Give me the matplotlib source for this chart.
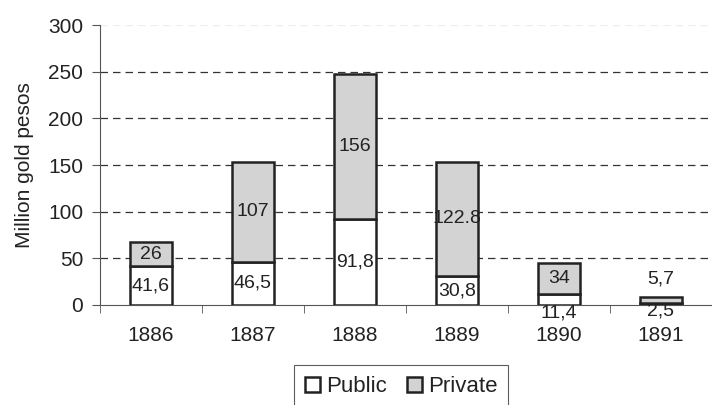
import matplotlib
matplotlib.use('Agg')
import matplotlib.pyplot as plt
import numpy as np

years = ['1886', '1887', '1888', '1889', '1890', '1891']
public = [41.6, 46.5, 91.8, 30.8, 11.4, 2.5]
private = [26, 107, 156, 122.8, 34, 5.7]
public_lbl = ['41,6', '46,5', '91,8', '30,8', '11,4', '2,5']
private_lbl = ['26', '107', '156', '122.8', '34', '5,7']

plt.rcParams['font.family'] = ['Liberation Sans', 'DejaVu Sans']
TXT = '#222222'

fig = plt.figure(figsize=(7.12, 4.05), dpi=100)
ax = fig.add_axes([0.1404, 0.247, 0.8596, 0.691])

x = np.arange(len(years))
w = 0.41
ax.bar(x, public, w, color='white', edgecolor='#222222', linewidth=1.8, label='Public', zorder=3)
ax.bar(x, private, w, bottom=public, color='#d3d3d3', edgecolor='#222222', linewidth=1.8,
       label='Private', zorder=3)

# 数值标签
for i in range(len(years)):
    pb, pv = public[i], private[i]
    if i == 4:
        py = -8.5
    elif i == 5:
        py = -6.5
    else:
        py = pb / 2
    vy = 28 if i == 5 else pb + pv / 2
    ax.text(x[i], py, public_lbl[i], ha='center', va='center', fontsize=14, color=TXT, zorder=4)
    ax.text(x[i], vy, private_lbl[i], ha='center', va='center', fontsize=14, color=TXT, zorder=4)

ax.set_ylim(0, 300)
ax.set_xlim(-0.5, 5.419)
ax.set_yticks(range(0, 301, 50))
for v in range(50, 251, 50):
    ax.axhline(v, color='#333333', linestyle=(0, (6, 4)), linewidth=0.9, zorder=1)
ax.axhline(300, color='#eeeeee', linestyle=(0, (6, 4)), linewidth=0.9, zorder=1)

ax.set_xticks(x)
ax.set_xticklabels(years)
ax.set_xticks(np.arange(-0.5, 6, 1), minor=True)
ax.tick_params(axis='x', which='major', length=0, pad=15, labelsize=15, labelcolor=TXT)
ax.tick_params(axis='x', which='minor', length=6, direction='out', color='#555555')
ax.tick_params(axis='y', length=6, direction='out', labelsize=15, labelcolor=TXT,
               color='#555555', pad=6)

for s in ['top', 'right']:
    ax.spines[s].set_visible(False)
ax.spines['left'].set_color('#555555')
ax.spines['bottom'].set_color('#555555')

ax.set_ylabel('Million gold pesos', fontsize=15, color=TXT, labelpad=10)

leg = ax.legend(loc='upper center', bbox_to_anchor=(0.492, -0.175), ncol=2, fontsize=16,
                frameon=True, fancybox=False, handlelength=0.7, handleheight=0.7,
                handletextpad=0.25, columnspacing=0.9, borderpad=0.5)
leg.get_frame().set_edgecolor('#333333')
leg.get_frame().set_linewidth(0.8)
for t in leg.get_texts():
    t.set_color(TXT)

plt.savefig('out.png', dpi=100)
